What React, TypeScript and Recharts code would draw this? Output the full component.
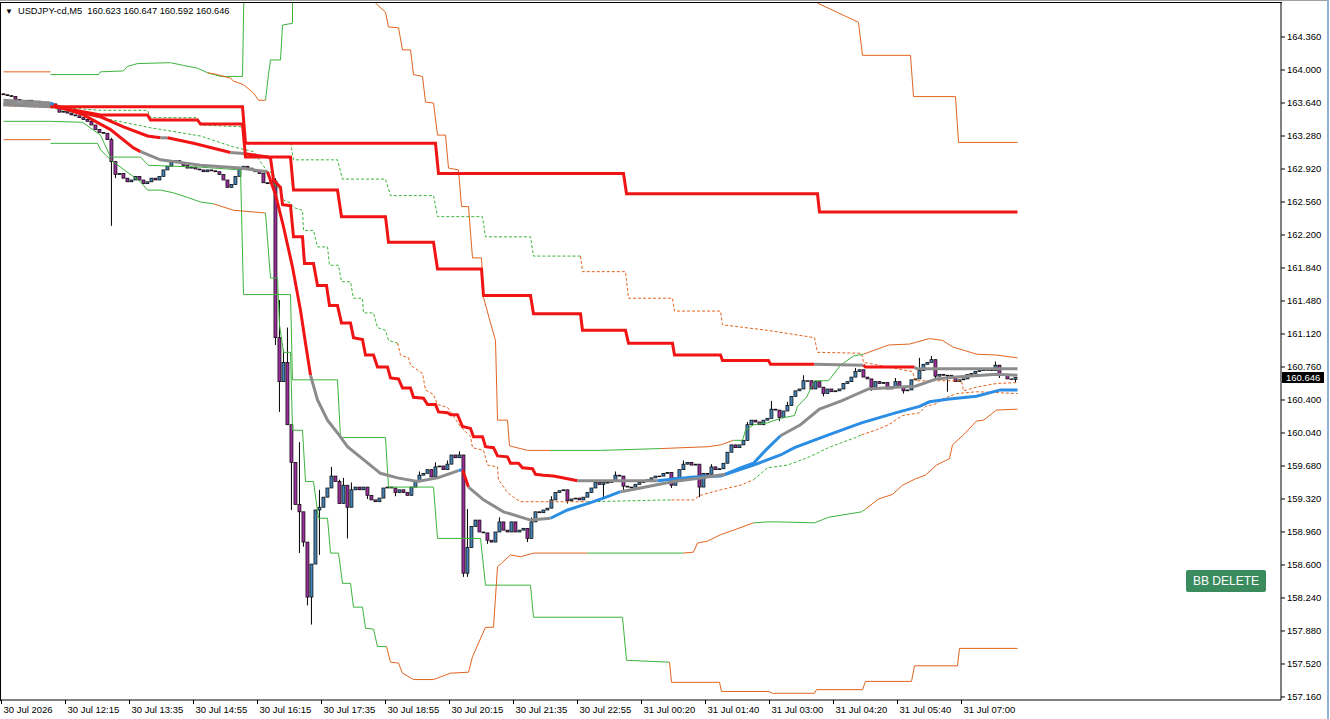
import React from "react";
import { Bar, ComposedChart, Line, XAxis, YAxis } from "recharts";

type Pt = [number, number];
type Seg = { s: string; p: Pt[] };

const FONT = '"Liberation Sans", Arial, sans-serif';
const SYMBOL = "USDJPY-cd,M5";

const TIME_LABELS = [
  "30 Jul 2026", "30 Jul 12:15", "30 Jul 13:35", "30 Jul 14:55", "30 Jul 16:15", "30 Jul 17:35",
  "30 Jul 18:55", "30 Jul 20:15", "30 Jul 21:35", "30 Jul 22:55", "31 Jul 00:20", "31 Jul 01:40",
  "31 Jul 03:00", "31 Jul 04:20", "31 Jul 05:40", "31 Jul 07:00",
];
const BARS_PER_LABEL = 16;

const PRICE_TICKS = [
  164.36, 164.0, 163.64, 163.28, 162.92, 162.56, 162.2, 161.84, 161.48, 161.12, 160.76,
  160.4, 160.04, 159.68, 159.32, 158.96, 158.6, 158.24, 157.88, 157.52, 157.16,
];

// M5 candles: open of the first bar, then closes (each open is the previous close)
const FIRST_OPEN = 163.74;
const CLOSES = [
  163.73, 163.72, 163.71, 163.68, 163.67, 163.66, 163.67, 163.65, 163.66, 163.64,
  163.65, 163.64, 163.63, 163.59, 163.54, 163.55, 163.53, 163.51, 163.5, 163.48,
  163.46, 163.44, 163.4, 163.35, 163.32, 163.31, 163.24, 163.0, 162.86, 162.87,
  162.82, 162.78, 162.8, 162.84, 162.8, 162.76, 162.78, 162.82, 162.8, 162.84,
  162.91, 162.95, 162.99, 163.01, 162.99, 162.96, 162.93, 162.94, 162.92, 162.91,
  162.89, 162.91, 162.9, 162.89, 162.86, 162.8, 162.72, 162.75, 162.84, 162.92,
  162.95, 162.93, 162.91, 162.89, 162.87, 162.77, 162.76, 162.79, 161.08, 160.6,
  160.81, 160.13, 159.72, 159.26, 159.18, 158.85, 158.25, 158.61, 159.2, 159.23,
  159.34, 159.44, 159.57, 159.51, 159.27, 159.47, 159.23, 159.42, 159.45, 159.42,
  159.45, 159.36, 159.31, 159.29, 159.33, 159.44, 159.45, 159.44, 159.39, 159.42,
  159.39, 159.36, 159.45, 159.51, 159.58, 159.6, 159.64, 159.56, 159.67, 159.68,
  159.64, 159.7, 159.8, 159.77, 159.8, 158.51, 158.79, 159.02, 159.09, 158.96,
  158.95, 158.87, 158.85, 158.96, 159.07, 158.98, 158.96, 159.07, 158.96, 158.98,
  159.0, 158.89, 159.07, 159.18, 159.17, 159.2, 159.22, 159.31, 159.39, 159.41,
  159.42, 159.3, 159.32, 159.33, 159.31, 159.34, 159.39, 159.44, 159.5, 159.48,
  159.5, 159.5, 159.51, 159.58, 159.57, 159.46, 159.45, 159.45, 159.48, 159.5,
  159.51, 159.53, 159.55, 159.57, 159.57, 159.6, 159.61, 159.47, 159.55, 159.64,
  159.7, 159.72, 159.69, 159.7, 159.45, 159.6, 159.59, 159.67, 159.64, 159.65,
  159.71, 159.83, 159.91, 159.88, 159.91, 159.96, 160.13, 160.18, 160.16, 160.13,
  160.18, 160.2, 160.3, 160.29, 160.21, 160.28, 160.34, 160.44, 160.5, 160.52,
  160.61, 160.61, 160.52, 160.6, 160.54, 160.47, 160.52, 160.49, 160.5, 160.52,
  160.58, 160.6, 160.65, 160.71, 160.73, 160.65, 160.63, 160.54, 160.6, 160.58,
  160.59, 160.52, 160.54, 160.6, 160.55, 160.5, 160.51, 160.62, 160.63, 160.72,
  160.79, 160.81, 160.84, 160.66, 160.68, 160.67, 160.67, 160.65, 160.6, 160.62,
  160.63, 160.68, 160.69, 160.71, 160.72, 160.73, 160.73, 160.72, 160.78, 160.68,
  160.67, 160.63, 160.623, 160.646,
];
// [bar, price] wick extremes beyond the body
const HIGH_WICKS: Pt[] = [
  [27, 163.26], [68, 162.82], [69, 161.49], [70, 160.95], [71, 161.19], [74, 159.94], [79, 159.42],
  [82, 159.67], [84, 159.53], [85, 159.55], [87, 159.5], [104, 159.62], [108, 159.72], [111, 159.74],
  [114, 159.84], [116, 159.21], [124, 159.12], [132, 159.12], [137, 159.35], [153, 159.62],
  [170, 159.74], [177, 159.7], [186, 160.16], [192, 160.39], [196, 160.38], [200, 160.67],
  [213, 160.75], [223, 160.64], [229, 160.86], [232, 160.88], [248, 160.82], [253, 160.647],
];
const LOW_WICKS: Pt[] = [
  [27, 162.3], [28, 162.82], [68, 161.0], [69, 160.27], [72, 159.2], [74, 158.73], [75, 158.8],
  [76, 158.16], [77, 157.95], [79, 158.71], [86, 158.89], [91, 159.32], [98, 159.35], [115, 158.47],
  [116, 158.47], [121, 158.83], [131, 158.85], [141, 159.27], [150, 159.34], [155, 159.42],
  [167, 159.44], [174, 159.34], [194, 160.17], [205, 160.44], [217, 160.5], [225, 160.47],
  [233, 160.62], [236, 160.49], [249, 160.64], [253, 160.592],
];

// Trend-coloured moving averages: [bar, price] with state down / flat / up
const MA_H4: Seg[] = [
  { s: "flat", p: [[0, 163.62], [11.75, 163.6]] },
  { s: "down", p: [[11.75, 163.6], [59.75, 163.6], [60.5, 163.2], [108, 163.2], [108.75, 162.87], [155, 162.87], [155.75, 162.65], [203.5, 162.65], [204, 162.45], [253.5, 162.45]] },
];
const MA_H1: Seg[] = [
  { s: "flat", p: [[0, 163.63], [11.75, 163.61]] },
  { s: "down", p: [[11.75, 163.61], [24.25, 163.51], [36, 163.51], [36.75, 163.455], [48.5, 163.455], [49.25, 163.41], [59.75, 163.41], [60.5, 163.05], [71.75, 163.05], [72.5, 162.69], [83.5, 162.69], [84.5, 162.4], [95.5, 162.4], [96.25, 162.12], [107.5, 162.12], [108.5, 161.83], [119.5, 161.83], [120, 161.54], [131.75, 161.54], [132.5, 161.34], [144.25, 161.34], [144.75, 161.16], [155.5, 161.16], [156.25, 161.02], [167.25, 161.02], [167.75, 160.89], [179.25, 160.89], [179.75, 160.83], [191.25, 160.83], [191.75, 160.79], [202.75, 160.79]] },
  { s: "flat", p: [[202.75, 160.79], [215, 160.78]] },
  { s: "down", p: [[215, 160.78], [215.5, 160.76], [227.75, 160.76]] },
  { s: "flat", p: [[227.75, 160.76], [228.25, 160.74], [253.5, 160.74]] },
];
const MA_M15: Seg[] = [
  { s: "flat", p: [[0, 163.64], [11.75, 163.61]] },
  { s: "down", p: [[11.75, 163.61], [24.25, 163.49], [30, 163.38], [36, 163.28], [39.25, 163.26]] },
  { s: "flat", p: [[39.25, 163.26], [41, 163.26]] },
  { s: "down", p: [[41, 163.26], [47.5, 163.2], [56.75, 163.1]] },
  { s: "flat", p: [[56.75, 163.1], [60, 163.09]] },
  { s: "down", p: [[60, 163.09], [66, 163.05], [66.75, 163.04], [67.5, 162.8], [69.25, 162.72], [69.75, 162.53], [71.75, 162.52], [72.5, 162.18], [74.75, 162.18], [75.25, 161.89], [77.5, 161.89], [78.5, 161.65], [80.75, 161.65], [81.5, 161.43], [83.5, 161.43], [84.5, 161.24], [86.75, 161.24], [87.5, 161.08], [89.75, 161.06], [90.5, 160.89], [92.5, 160.89], [93.5, 160.76], [96, 160.76], [96.75, 160.64], [98.75, 160.63], [99.75, 160.53], [101.75, 160.53], [102.5, 160.43], [105, 160.42], [106, 160.35], [108, 160.35], [108.75, 160.27], [111, 160.26], [111.75, 160.24], [113.5, 160.24], [114.75, 160.11], [116.75, 160.09], [117.5, 160.0], [119.75, 160.0], [120.5, 159.89], [122.5, 159.88], [123.5, 159.79], [126, 159.78], [126.75, 159.71], [128.75, 159.71], [129.75, 159.66], [132.25, 159.65], [133, 159.59], [135, 159.58], [137.5, 159.57], [141, 159.54], [143.5, 159.52]] },
  { s: "flat", p: [[143.5, 159.52], [163.5, 159.52]] },
  { s: "up", p: [[163.5, 159.52], [172.5, 159.56], [179.25, 159.57], [187.5, 159.69], [194.25, 159.8], [197.75, 159.88], [206.25, 160.02], [214.5, 160.15], [223, 160.26], [229, 160.33], [231.5, 160.38], [236.5, 160.41], [243.25, 160.44], [249.25, 160.51], [253.5, 160.51]] },
];
const MA_M5: Seg[] = [
  { s: "flat", p: [[0, 163.67], [11.75, 163.64]] },
  { s: "up", p: [[11.75, 163.64], [12.5, 163.62]] },
  { s: "down", p: [[12.5, 163.62], [20, 163.51], [26.75, 163.35], [32.5, 163.15], [34.25, 163.11]] },
  { s: "flat", p: [[34.25, 163.11], [39.25, 163.02], [44.25, 162.99], [49.25, 162.96], [59.25, 162.93], [66, 162.89]] },
  { s: "down", p: [[66, 162.89], [68, 162.64], [70, 162.29], [72.25, 161.85], [74.25, 161.38], [75.5, 161.02], [76.75, 160.67]] },
  { s: "flat", p: [[76.75, 160.67], [78.5, 160.4], [81, 160.18], [83.5, 160.04], [86, 159.89], [90, 159.75], [94.25, 159.6], [98.5, 159.55], [103.5, 159.51], [108.5, 159.55], [111.75, 159.6], [113.75, 159.63]] },
  { s: "up", p: [[113.75, 159.63], [114.75, 159.64]] },
  { s: "down", p: [[114.75, 159.64], [116.25, 159.45]] },
  { s: "flat", p: [[116.25, 159.45], [120, 159.31], [125, 159.18], [131.75, 159.09], [136.75, 159.11]] },
  { s: "up", p: [[136.75, 159.11], [141, 159.2], [146.75, 159.28], [150, 159.33], [154.25, 159.4]] },
  { s: "flat", p: [[154.25, 159.4], [159.25, 159.44], [167.5, 159.51], [174.25, 159.55], [180.5, 159.59]] },
  { s: "up", p: [[180.5, 159.59], [184.25, 159.66], [187.5, 159.71], [190.5, 159.85], [194.25, 160.01]] },
  { s: "flat", p: [[194.25, 160.01], [196.75, 160.07], [199.25, 160.13], [204, 160.3], [209.5, 160.39], [216.25, 160.52], [223, 160.54], [228, 160.55], [233.25, 160.63], [238.25, 160.65], [248.25, 160.68], [253.5, 160.67]] },
];

// Band lines: state widen / narrow
const BAND_H1_UP: Seg[] = [
  { s: "narrow", p: [[0, 163.98], [11.75, 163.98]] },
  { s: "widen", p: [[11.75, 163.95], [23.75, 163.95], [24.25, 163.98], [30, 163.99], [31, 164.04], [33.5, 164.07], [41.75, 164.08], [45, 164.05], [48.5, 164.02], [51, 163.97], [54.25, 163.93], [59.75, 163.93], [60.25, 165.2]] },
  { s: "narrow", p: [[203.25, 165.2], [203.5, 164.73], [213.75, 164.52], [214.75, 164.16], [226.75, 164.16], [227.5, 163.71], [238, 163.71], [238.75, 163.21], [253.5, 163.21]] },
];
const BAND_M15_UP: Seg[] = [
  { s: "narrow", p: [[51, 163.97], [53.5, 163.95], [56.75, 163.91], [57.5, 163.88], [60, 163.84], [62.5, 163.75], [63.75, 163.67], [65.5, 163.67]] },
  { s: "widen", p: [[65.5, 163.67], [66.25, 163.95], [66.75, 164.11], [69.25, 164.11], [69.75, 164.49], [72.25, 164.51], [72.25, 165.2]] },
  { s: "narrow", p: [[92.75, 165.2], [93, 164.73], [95.5, 164.63], [96.25, 164.47], [98.75, 164.46], [99.75, 164.22], [101.75, 164.22], [102.5, 163.95], [104.75, 163.93], [105.5, 163.65], [107.5, 163.64], [108.5, 163.29], [110.5, 163.29], [111.25, 162.93], [113.75, 162.91], [114.5, 162.51], [116.25, 162.51], [117.25, 161.95], [119.5, 161.95], [120, 161.52], [121.75, 161.24], [123, 161.05], [123.5, 160.18], [126, 160.18], [126.5, 159.9], [131, 159.85], [136.75, 159.85]] },
  { s: "widen", p: [[136.75, 159.85], [149.25, 159.85], [164.25, 159.87]] },
  { s: "narrow", p: [[164.25, 159.87], [176, 159.89], [179.25, 159.91], [182.5, 159.96]] },
  { s: "widen", p: [[182.5, 159.96], [184.75, 159.96], [185.5, 160.07], [187.5, 160.13], [191, 160.15], [194.25, 160.2], [197.75, 160.23], [198.5, 160.33], [200.75, 160.43], [202.75, 160.61], [206.25, 160.61], [209.25, 160.78], [212.5, 160.88], [215, 160.9]] },
  { s: "narrow", p: [[215, 160.9], [221.25, 161.0], [226.5, 161.01], [231.5, 161.07], [234.75, 161.05], [237.25, 160.98], [243.25, 160.9], [248.25, 160.89], [253.5, 160.86]] },
];
const BAND_H1_LO: Seg[] = [
  { s: "widen", p: [[0, 163.44], [11.75, 163.44], [19.75, 163.43], [24.25, 163.29], [26.75, 163.05], [34.25, 163.05], [36.25, 162.96], [49.25, 162.94], [59.25, 162.91], [60, 161.55], [71.75, 161.55], [72.25, 160.62], [83.5, 160.62], [84.25, 159.99], [95.5, 159.99], [96.25, 159.45], [107.5, 159.45], [108.5, 158.89], [119.25, 158.89], [120.5, 158.38], [131.75, 158.38], [132.5, 158.03], [154.75, 158.03], [155.75, 157.56], [166.5, 157.54]] },
  { s: "narrow", p: [[166.5, 157.54], [167, 157.32], [179, 157.32], [179.5, 157.22], [191.25, 157.22], [192.25, 157.2], [202.75, 157.2], [203.25, 157.24], [214.75, 157.24], [215.5, 157.33], [227, 157.33], [227.75, 157.5], [238.5, 157.5], [239, 157.69], [253.5, 157.69]] },
];
const BAND_M15_LO: Seg[] = [
  { s: "narrow", p: [[0, 163.24], [11.75, 163.24]] },
  { s: "widen", p: [[11.75, 163.2], [23.5, 163.2], [24.25, 163.13], [26.75, 163.02], [34.25, 162.78], [36, 162.69], [39.25, 162.69], [42.5, 162.66], [46, 162.61], [49.25, 162.56], [52.5, 162.54]] },
  { s: "narrow", p: [[52.5, 162.54], [57.5, 162.47], [65.5, 162.44]] },
  { s: "widen", p: [[65.5, 162.44], [66.75, 161.73], [68.5, 161.73], [69, 161.22], [70, 160.92], [71.75, 160.92], [72.25, 160.07], [74.75, 160.07], [75.5, 159.51], [77.5, 159.51], [78.75, 159.11], [81, 159.11], [81.75, 158.73], [83.75, 158.73], [84.75, 158.4], [86.75, 158.4], [87.5, 158.14], [89.75, 158.14], [90.5, 157.91], [92.5, 157.9], [93.5, 157.71], [95.75, 157.71]] },
  { s: "narrow", p: [[95.75, 157.71], [96.75, 157.54], [98.75, 157.53], [99.75, 157.42], [102.5, 157.35], [107.5, 157.35], [111.75, 157.42], [116.25, 157.43], [117.25, 157.6], [120.5, 157.92], [122.5, 157.92], [123.5, 158.58], [126.75, 158.71], [129.25, 158.69], [132.5, 158.73], [146, 158.73]] },
  { s: "widen", p: [[146, 158.73], [170, 158.73]] },
  { s: "narrow", p: [[170, 158.73], [172.5, 158.74], [173.5, 158.84], [176, 158.86], [179.25, 158.93], [182.5, 158.98], [187.5, 159.06]] },
  { s: "widen", p: [[187.5, 159.06], [191, 159.07], [193.5, 159.07], [202.75, 159.06], [206.25, 159.12], [214.5, 159.18], [215.5, 159.21]] },
  { s: "narrow", p: [[215.5, 159.21], [218.75, 159.32], [222.25, 159.37], [224.75, 159.47], [228, 159.54], [230.5, 159.58], [233.25, 159.69], [236.5, 159.76], [237.25, 159.91], [240, 160.02], [243.25, 160.17], [245, 160.18], [248.25, 160.29], [253.5, 160.3]] },
];
// Dotted envelopes
const ENV_H1: Seg[] = [
  { s: "widen", p: [[0, 163.62], [11.75, 163.6], [24.25, 163.56], [36, 163.56], [36.75, 163.48], [48.5, 163.48], [49.25, 163.4], [59.75, 163.38], [60.5, 163.21], [71.75, 163.21], [72.5, 163.02], [83.5, 163.02], [84.75, 162.81], [95.5, 162.81], [96.75, 162.63], [107.5, 162.63], [108.5, 162.4], [119.75, 162.4], [120.5, 162.18], [131.75, 162.18], [132.5, 161.97], [144.25, 161.97]] },
  { s: "narrow", p: [[144.25, 161.97], [144.75, 161.8], [155.5, 161.8], [156.25, 161.51], [167.25, 161.51], [167.75, 161.37], [179.25, 161.37], [179.75, 161.22], [191, 161.16], [202.75, 161.08], [203.5, 160.92], [214.5, 160.91], [215, 160.81], [227.25, 160.71], [228, 160.61], [239.5, 160.61], [240, 160.5], [243.25, 160.54], [248.25, 160.58], [253.5, 160.59]] },
];
const ENV_M15: Seg[] = [
  { s: "narrow", p: [[0, 163.61], [11.75, 163.59]] },
  { s: "widen", p: [[11.75, 163.59], [24.25, 163.48], [36.75, 163.37], [49.25, 163.28], [57.5, 163.16], [62.5, 163.11], [66, 162.89], [67.5, 162.88], [68, 162.72], [69.25, 162.71], [70, 162.58], [71.75, 162.55], [72.5, 162.5], [74.75, 162.47], [75, 162.25], [77.5, 162.25], [78.5, 162.07], [81, 162.07], [81.5, 161.87], [83.75, 161.87], [84.5, 161.69], [86.75, 161.69], [87.5, 161.51], [89.75, 161.51], [90, 161.35], [92.5, 161.35], [93.5, 161.19], [95.5, 161.16], [96.25, 161.05], [98.5, 161.02]] },
  { s: "narrow", p: [[98.5, 161.02], [99.25, 160.89], [101.25, 160.86], [101.75, 160.78], [104.75, 160.69], [105.5, 160.51], [107.5, 160.46], [108.5, 160.35], [111, 160.32], [114.25, 160.11], [116.75, 160.0], [117.25, 159.88], [120, 159.85], [121, 159.69], [123.5, 159.67], [123.75, 159.53], [126, 159.39], [127.5, 159.34], [129.25, 159.29], [146, 159.29]] },
  { s: "widen", p: [[146, 159.29], [167, 159.31]] },
  { s: "narrow", p: [[167, 159.31], [172.5, 159.31], [174.25, 159.36], [177.5, 159.4], [179.25, 159.42], [184.25, 159.47], [187.5, 159.53]] },
  { s: "widen", p: [[187.5, 159.53], [191, 159.66], [196, 159.69], [201, 159.77], [206.25, 159.88], [209.25, 159.93], [213, 159.99], [214.5, 160.02]] },
  { s: "narrow", p: [[214.5, 160.02], [218, 160.07], [221.25, 160.13], [224.75, 160.23], [229, 160.26], [230.5, 160.33], [233.25, 160.36], [234.75, 160.41], [238.25, 160.47], [243.25, 160.49], [253.5, 160.47]] },
];

const MA_COLORS: Record<string, string> = { down: "#f01414", flat: "#8c8c8c", up: "#2b8de4" };
const BAND_COLORS: Record<string, string> = { widen: "#3cb43c", narrow: "#e2641e" };
const BULL = "#4682b4";
const BEAR = "#9a2f9a";

const highMap = new Map(HIGH_WICKS);
const lowMap = new Map(LOW_WICKS);
const candles = CLOSES.map((c, i) => {
  const o = i === 0 ? FIRST_OPEN : CLOSES[i - 1];
  const h = Math.max(o, c, highMap.get(i) ?? -Infinity);
  const l = Math.min(o, c, lowMap.get(i) ?? Infinity);
  return { i, o, h, l, c };
});
const last = candles[candles.length - 1];
const xTicks = TIME_LABELS.map((_, k) => k * BARS_PER_LABEL - 0.5);

function Candle(props: any) {
  const { x, y, width, height, payload } = props;
  if (x == null || y == null || !payload) return null;
  const { o, h, l, c } = payload;
  const cx = x + width / 2;
  const span = h - l;
  const py = (v: number) => (span > 0 ? y + ((h - v) / span) * height : y);
  const top = py(Math.max(o, c));
  const bot = py(Math.min(o, c));
  return (
    <g>
      <line x1={cx} x2={cx} y1={y} y2={y + height} stroke="#000" strokeWidth={1} />
      <rect x={cx - 1.5} y={top} width={3} height={Math.max(bot - top, 0.6)} fill={c >= o ? BULL : BEAR} stroke="#000" strokeWidth={0.7} />
    </g>
  );
}

function XTick(props: any) {
  const { x, y, payload } = props;
  const k = xTicks.indexOf(payload.value);
  return (
    <text x={x + 2} y={y} dy="0.71em" fontSize={9.5} fill="#000" fontFamily={FONT} textAnchor="start">
      {TIME_LABELS[k]}
    </text>
  );
}

function segLines(name: string, segs: Seg[], colors: Record<string, string>, width: number, dash?: string) {
  return segs.map((seg, k) => (
    <Line
      key={`${name}-${k}`}
      data={seg.p.map(([i, v]) => ({ i, v }))}
      dataKey="v"
      type="linear"
      stroke={colors[seg.s]}
      strokeWidth={width}
      strokeDasharray={dash}
      dot={false}
      activeDot={false}
      isAnimationActive={false}
      legendType="none"
    />
  ));
}

export default function App() {
  return (
    <div style={{ position: "absolute", left: 0, top: 0, width: 1330, height: 719, background: "#fff", fontFamily: FONT }}>
      <ComposedChart width={1330} height={719} data={candles} margin={{ top: 3, right: 0, left: 1, bottom: 0 }}>
        <XAxis
          type="number"
          dataKey="i"
          domain={[-0.625, 319.375]}
          ticks={xTicks}
          interval={0}
          allowDataOverflow
          height={19}
          tickSize={4}
          tickMargin={2}
          stroke="#000"
          tick={<XTick />}
        />
        <YAxis
          orientation="right"
          type="number"
          domain={[157.127, 164.731]}
          ticks={PRICE_TICKS}
          interval={0}
          allowDataOverflow
          width={49}
          tickSize={4}
          tickMargin={2}
          stroke="#000"
          tick={{ fill: "#000", fontSize: 9.5, fontFamily: FONT }}
          tickFormatter={(v: number) => v.toFixed(3)}
        />
        {segLines("envh1", ENV_H1, BAND_COLORS, 1, "3 2")}
        {segLines("envm15", ENV_M15, BAND_COLORS, 1, "3 2")}
        {segLines("bh1u", BAND_H1_UP, BAND_COLORS, 1)}
        {segLines("bm15u", BAND_M15_UP, BAND_COLORS, 1)}
        {segLines("bh1l", BAND_H1_LO, BAND_COLORS, 1)}
        {segLines("bm15l", BAND_M15_LO, BAND_COLORS, 1)}
        <Bar dataKey={(d: any) => [d.l, d.h]} barSize={3} shape={<Candle />} isAnimationActive={false} legendType="none" />
        {segLines("mah4", MA_H4, MA_COLORS, 3)}
        {segLines("mah1", MA_H1, MA_COLORS, 3)}
        {segLines("mam15", MA_M15, MA_COLORS, 3)}
        {segLines("mam5", MA_M5, MA_COLORS, 3)}
      </ComposedChart>

      <div style={{ position: "absolute", left: 0, top: 0, width: 1327, height: 1, background: "#a0a0a0" }} />
      <div style={{ position: "absolute", left: 0, top: 2, width: 1282, height: 1, background: "#000" }} />
      <div style={{ position: "absolute", left: 0, top: 2, width: 1, height: 699, background: "#000" }} />
      <div style={{ position: "absolute", left: 1327, top: 0, width: 2, height: 719, background: "#8fb3d6" }} />

      <div style={{ position: "absolute", left: 5, top: 5, fontSize: 9.3, lineHeight: "12px", color: "#000", whiteSpace: "pre" }}>
        <span style={{ fontSize: 8, marginRight: 5 }}>▼</span>
        {`${SYMBOL}  ${last.o.toFixed(3)} ${last.h.toFixed(3)} ${last.l.toFixed(3)} ${last.c.toFixed(3)}`}
      </div>

      <div style={{ position: "absolute", left: 1282, top: 372, width: 42, height: 11, background: "#000", color: "#fff", fontSize: 9.5, lineHeight: "11px", paddingLeft: 4, boxSizing: "border-box" }}>
        {last.c.toFixed(3)}
      </div>

      <div style={{ position: "absolute", left: 1186, top: 570, width: 80, height: 22, background: "#3a8c5e", color: "#fff", fontSize: 12, lineHeight: "22px", textAlign: "center", borderRadius: 2 }}>
        BB DELETE
      </div>
    </div>
  );
}
